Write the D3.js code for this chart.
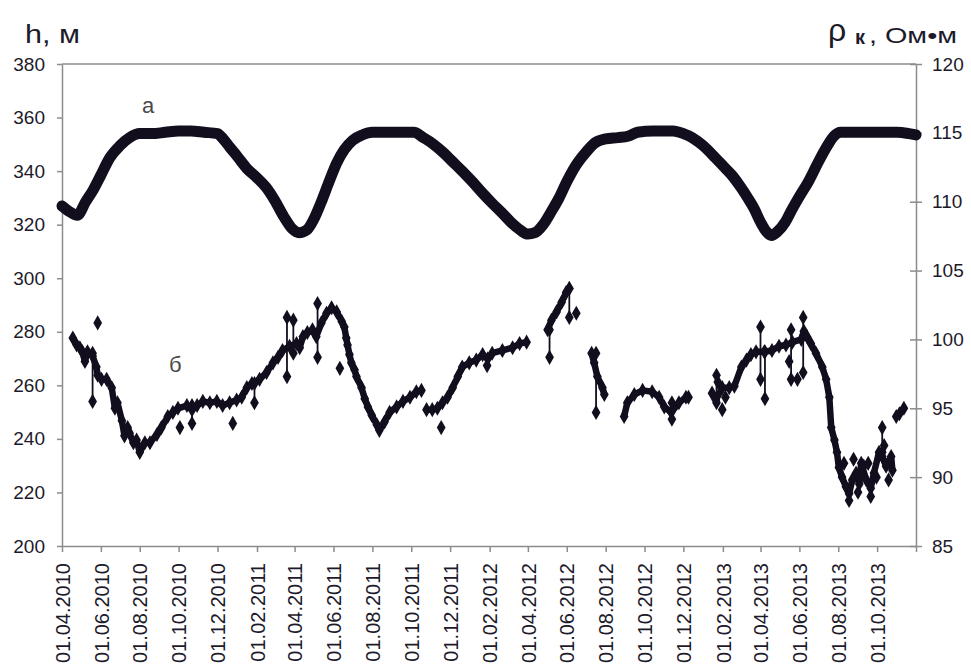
<!DOCTYPE html>
<html>
<head>
<meta charset="utf-8">
<script src="https://cdn.jsdelivr.net/npm/d3@7"></script>
<style>
  body { margin: 0; background: #fff; }
  svg { font-family: Arial, "Liberation Sans", sans-serif; }
</style>
</head>
<body>
<svg width="971" height="669"></svg>
<script>
//********************* DATA *********************//

// x axis tick labels (every 2 months), axis ends at 01.12.2013
var xTickLabels = ["01.04.2010","01.06.2010","01.08.2010","01.10.2010","01.12.2010",
  "01.02.2011","01.04.2011","01.06.2011","01.08.2011","01.10.2011","01.12.2011",
  "01.02.2012","01.04.2012","01.06.2012","01.08.2012","01.10.2012","01.12.2012",
  "01.02.2013","01.04.2013","01.06.2013","01.08.2013","01.10.2013"];
var xEnd = "01.12.2013";
var hTicks = [200, 220, 240, 260, 280, 300, 320, 340, 360, 380];
var rhoTicks = [85, 90, 95, 100, 105, 110, 115, 120];

// curve "а": h, m (left axis)
var aDates = [
  "01.04.2010","12.04.2010","25.04.2010","08.05.2010","20.05.2010","01.06.2010","15.06.2010","01.07.2010","16.07.2010","01.08.2010","20.08.2010","10.09.2010","01.10.2010","20.10.2010","10.11.2010","01.12.2010","10.12.2010","20.12.2010",
  "01.01.2011","16.01.2011","01.02.2011","15.02.2011","01.03.2011","15.03.2011","28.03.2011","08.04.2011","20.04.2011","01.05.2011","12.05.2011","25.05.2011","06.06.2011","18.06.2011","01.07.2011","16.07.2011","01.08.2011","01.09.2011","05.10.2011","20.10.2011","05.11.2011","20.11.2011","05.12.2011","20.12.2011",
  "05.01.2012","20.01.2012","05.02.2012","20.02.2012","05.03.2012","20.03.2012","01.04.2012","12.04.2012","25.04.2012","08.05.2012","20.05.2012","01.06.2012","15.06.2012","01.07.2012","15.07.2012","01.08.2012","20.08.2012","05.09.2012","20.09.2012","15.10.2012","15.11.2012","01.12.2012","15.12.2012",
  "01.01.2013","20.01.2013","01.02.2013","15.02.2013","01.03.2013","12.03.2013","22.03.2013","01.04.2013","10.04.2013","18.04.2013","28.04.2013","10.05.2013","20.05.2013","01.06.2013","15.06.2013","01.07.2013","15.07.2013","25.07.2013","05.08.2013","01.09.2013","01.10.2013","01.11.2013","20.11.2013","01.12.2013"];
var aValues = [
  327, 325, 323.5, 328.5, 333, 338.5, 345, 349.5, 352.5, 354, 354, 354.5, 355, 355, 354.5, 354, 352, 349,
  345.5, 341, 337.5, 334, 329, 323, 318.5, 317, 318, 322, 328, 336, 343, 348, 351.5, 353.5, 354.5, 354.5, 354.5, 352.5, 350, 347, 343.5, 340,
  336, 332, 328, 324.5, 321, 318, 316.5, 317, 320, 325, 330, 336, 342, 347, 350.5, 352, 352.5, 353, 354.5, 355, 355, 354, 352.5,
  349.5, 345, 342, 338.5, 334, 330, 326, 321, 317.5, 316, 317.5, 321, 325.5, 330.5, 336, 343.5, 349.5, 353, 354.5, 354.5, 354.5, 354.5, 354, 353.5];

// curve "б": rho_k, Ohm*m (right axis); null = break in the record
var bDates = [
  "18.04.2010","24.04.2010","29.04.2010","03.05.2010","07.05.2010","11.05.2010","19.05.2010","25.05.2010","27.05.2010","02.06.2010",
  "10.06.2010","18.06.2010","23.06.2010","27.06.2010","04.07.2010","08.07.2010","13.07.2010","16.07.2010","22.07.2010","27.07.2010",
  "01.08.2010","09.08.2010","17.08.2010","28.08.2010","04.09.2010","14.09.2010","22.09.2010","30.09.2010","14.10.2010","22.10.2010",
  "30.10.2010","08.11.2010","19.11.2010","30.11.2010","09.12.2010","20.12.2010","31.12.2010","08.01.2011","16.01.2011","24.01.2011",
  "05.02.2011","16.02.2011","26.02.2011","06.03.2011","13.03.2011","24.03.2011","04.04.2011","09.04.2011","14.04.2011","21.04.2011",
  "29.04.2011","05.05.2011","13.05.2011","21.05.2011","29.05.2011","06.06.2011","14.06.2011","18.06.2011","21.06.2011","23.06.2011",
  "26.06.2011","29.06.2011","04.07.2011","07.07.2011","15.07.2011","20.07.2011","25.07.2011","31.07.2011","08.08.2011","12.08.2011",
  "20.08.2011","28.08.2011","08.09.2011","18.09.2011","29.09.2011","09.10.2011","17.10.2011",null,
  "25.10.2011","03.11.2011","11.11.2011","19.11.2011","27.11.2011","05.12.2011","13.12.2011","20.12.2011","31.12.2011","11.01.2012",
  "21.01.2012","29.01.2012","05.02.2012","21.02.2012","08.03.2012","19.03.2012","30.03.2012",null,
  "02.05.2012","08.05.2012","16.05.2012","24.05.2012","31.05.2012","05.06.2012",null,
  "10.07.2012","14.07.2012","19.07.2012","27.07.2012","30.07.2012",null,
  "30.08.2012","04.09.2012","15.09.2012","28.09.2012","13.10.2012","24.10.2012","01.11.2012","12.11.2012","24.11.2012","05.12.2012","09.12.2012",null,
  "15.01.2013","21.01.2013","31.01.2013","11.02.2013","19.02.2013","02.03.2013","10.03.2013","17.03.2013","25.03.2013","07.04.2013",
  "19.04.2013","30.04.2013","11.05.2013","21.05.2013","04.06.2013","08.06.2013","13.06.2013","19.06.2013","27.06.2013","07.07.2013",
  "13.07.2013","18.07.2013","21.07.2013","26.07.2013","30.07.2013","02.08.2013","07.08.2013","13.08.2013","18.08.2013","23.08.2013",
  "29.08.2013","03.09.2013","06.09.2013","14.09.2013","21.09.2013","26.09.2013","04.10.2013","09.10.2013","15.10.2013","23.10.2013","25.10.2013",null,
  "31.10.2013","05.11.2013","12.11.2013"];
var bValues = [
  100.1, 99.6, 99.4, 99.1, 98.4, 99.1, 98.8, 98.0, 97.4, 97.1,
  97.1, 96.5, 95.0, 95.4, 94.1, 93.0, 93.6, 93.2, 92.5, 92.7,
  91.8, 92.5, 92.5, 93.1, 93.6, 94.4, 94.7, 95.0, 95.2, 94.9,
  95.2, 95.5, 95.4, 95.5, 95.2, 95.4, 95.6, 95.8, 96.5, 96.8,
  97.1, 97.6, 98.3, 98.7, 99.2, 99.5, 99.7, 99.4, 100.2, 100.5,
  100.7, 100.2, 101.2, 101.9, 102.3, 102.0, 101.3, 100.9, 100.1, 99.6,
  98.9, 98.3, 97.8, 97.3, 96.5, 95.7, 95.1, 94.5, 93.8, 93.4,
  94.0, 94.7, 95.1, 95.5, 95.8, 96.2, 96.3, null,
  94.9, 94.9, 95.0, 95.4, 95.8, 96.5, 97.3, 98.0, 98.3, 98.5,
  98.9, 98.6, 99.0, 99.2, 99.4, 99.7, 99.8, null,
  100.7, 101.4, 102.0, 102.7, 103.4, 103.7, null,
  99.0, 98.3, 97.3, 96.5, 96.0, null,
  94.4, 95.4, 96.0, 96.3, 96.2, 95.8, 95.1, 94.7, 95.4, 95.8, 95.8, null,
  96.1, 95.6, 96.5, 96.5, 96.6, 98.0, 98.5, 98.9, 99.1, 99.1,
  99.2, 99.5, 99.6, 99.8, 100.0, 100.6, 100.2, 99.7, 99.0, 98.0,
  97.1, 95.8, 93.6, 92.7, 91.8, 90.7, 90.0, 89.3, 88.8, 89.8,
  90.3, 89.5, 91.0, 89.8, 89.2, 90.3, 91.8, 91.5, 90.8, 91.5, 90.5, null,
  94.4, 94.6, 95.0];

// single scattered measurements of "б"
var bOutDates = ["27.05.2010","03.10.2010","25.12.2010","11.06.2011","17.11.2011","31.01.2013","16.05.2013","29.05.2013",
  "10.08.2013","18.08.2013","25.08.2013","01.09.2013","10.09.2013","17.09.2013","21.09.2013","30.09.2013","12.10.2013","19.10.2013",
  "05.02.2013","24.01.2013","16.06.2012","28.01.2012"];
var bOutValues = [101.2, 93.6, 93.9, 97.9, 93.6, 94.9, 98.4, 97.1,
  91.0, 88.3, 91.3, 88.9, 90.8, 91.0, 88.6, 90.0, 92.3, 89.8,
  95.8, 96.9, 101.9, 98.1];

// vertical spread bars of "б"
var wDates = ["19.05.2010","22.10.2010","28.01.2011","20.03.2011","30.03.2011","07.05.2011","05.05.2012","05.06.2012",
  "17.07.2012","13.11.2012","22.01.2013","01.04.2013","08.04.2013","19.05.2013","07.06.2013","09.10.2013"];
var wLow  = [95.5, 93.9, 95.4, 97.3, 99.0, 98.7, 98.7, 101.6, 94.7, 94.2, 95.4, 97.1, 95.7, 97.1, 97.6, 91.8];
var wHigh = [99.0, 95.2, 96.8, 101.6, 101.4, 102.6, 100.7, 103.7, 99.0, 95.4, 97.4, 100.9, 99.1, 100.7, 101.6, 93.6];

//********************* CHART *********************//

var svg = d3.select("svg"),
    width = +svg.attr("width"),
    height = +svg.attr("height");
var margin = {top: 64, right: 55, bottom: 123, left: 62};
var plotL = margin.left, plotR = width - margin.right,
    plotT = margin.top, plotB = height - margin.bottom;

var ink = "#120e1e", axisCol = "#8c8c8c", textCol = "#1d1a2b";
var parse = d3.timeParse("%d.%m.%Y");

var x = d3.scaleTime()
    .domain([parse(xTickLabels[0]), parse(xEnd)])
    .range([plotL, plotR]);
var yH = d3.scaleLinear().domain([200, 380]).range([plotB, plotT]);
var yR = d3.scaleLinear().domain([85, 120]).range([plotB, plotT]);

svg.append("rect").attr("width", width).attr("height", height).attr("fill", "#fff");

// frame top line
svg.append("line")
    .attr("x1", plotL).attr("x2", plotR).attr("y1", plotT).attr("y2", plotT)
    .attr("stroke", axisCol).attr("stroke-width", 1.5);

// left axis
var gL = svg.append("g")
    .attr("transform", "translate(" + plotL + ",0)")
    .call(d3.axisLeft(yH).tickValues(hTicks).tickSize(5).tickSizeOuter(0).tickPadding(12));

// right axis (ticks cross the line)
var gR = svg.append("g")
    .attr("transform", "translate(" + plotR + ",0)")
    .call(d3.axisRight(yR).tickValues(rhoTicks).tickSize(6).tickSizeOuter(0).tickPadding(10));
gR.selectAll(".tick line").attr("x1", -6);

// bottom axis
var tickDates = xTickLabels.map(parse).concat([parse(xEnd)]);
var fmt = d3.timeFormat("%d.%m.%Y");
var gB = svg.append("g")
    .attr("transform", "translate(0," + plotB + ")")
    .call(d3.axisBottom(x).tickValues(tickDates).tickSize(6).tickSizeOuter(0)
        .tickFormat(function(d) { return xTickLabels.indexOf(fmt(d)) >= 0 ? fmt(d) : ""; }));
gB.selectAll(".tick text")
    .attr("transform", "rotate(-90)")
    .attr("text-anchor", "end")
    .attr("x", -17).attr("y", 0).attr("dy", "0.36em")
    .style("font-size", "20px");

[gL, gR, gB].forEach(function(g) {
    g.select(".domain").attr("stroke", axisCol).attr("stroke-width", 1.5);
    g.selectAll(".tick line").attr("stroke", axisCol).attr("stroke-width", 1.5);
    g.selectAll(".tick text").attr("fill", textCol);
});
gL.selectAll(".tick text").style("font-size", "19px");
gR.selectAll(".tick text").style("font-size", "19px");

// curve "а"
var aData = aDates.map(function(d, i) { return {d: parse(d), v: aValues[i]}; });
svg.append("path")
    .datum(aData)
    .attr("fill", "none")
    .attr("stroke", ink)
    .attr("stroke-width", 11)
    .attr("stroke-linecap", "round")
    .attr("stroke-linejoin", "round")
    .attr("d", d3.line()
        .x(function(d) { return x(d.d); })
        .y(function(d) { return yH(d.v); })
        .curve(d3.curveMonotoneX));

// curve "б"
var bData = bDates.map(function(d, i) { return {d: d ? parse(d) : null, v: bValues[i]}; });
var diamond = d3.symbol(d3.symbolDiamond, 66);

// spread bars
var wData = wDates.map(function(d, i) { return {d: parse(d), lo: wLow[i], hi: wHigh[i]}; });
svg.append("g").selectAll("line")
    .data(wData)
    .enter().append("line")
        .attr("x1", function(d) { return x(d.d); })
        .attr("x2", function(d) { return x(d.d); })
        .attr("y1", function(d) { return yR(d.lo); })
        .attr("y2", function(d) { return yR(d.hi); })
        .attr("stroke", ink).attr("stroke-width", 1.8);

svg.append("path")
    .datum(bData)
    .attr("fill", "none")
    .attr("stroke", ink)
    .attr("stroke-width", 6.5)
    .attr("stroke-linejoin", "round")
    .attr("stroke-linecap", "round")
    .attr("d", d3.line()
        .defined(function(d) { return d.v != null; })
        .x(function(d) { return x(d.d); })
        .y(function(d) { return yR(d.v); }));

var marks = bData.filter(function(d) { return d.v != null; })
    .concat(bOutDates.map(function(d, i) { return {d: parse(d), v: bOutValues[i]}; }))
    .concat(wData.map(function(d) { return {d: d.d, v: d.lo}; }))
    .concat(wData.map(function(d) { return {d: d.d, v: d.hi}; }));
svg.append("g").selectAll("path")
    .data(marks)
    .enter().append("path")
        .attr("d", diamond)
        .attr("fill", ink)
        .attr("transform", function(d) { return "translate(" + x(d.d) + "," + yR(d.v) + ")"; });

// curve labels
svg.append("text").attr("x", 142).attr("y", 113)
    .attr("fill", "#4a4a4a").style("font-size", "22px").text("а");
svg.append("text").attr("x", 169).attr("y", 372)
    .attr("fill", "#4a4a4a").style("font-size", "22px").text("б");

// axis titles
svg.append("text").attr("x", 25).attr("y", 43)
    .attr("fill", textCol).style("font-size", "26px")
    .attr("textLength", 55).attr("lengthAdjust", "spacingAndGlyphs")
    .text("h, м");
svg.append("text").attr("x", 828).attr("y", 41)
    .attr("fill", textCol).style("font-size", "32px").text("ρ");
svg.append("text").attr("x", 855).attr("y", 44)
    .attr("fill", textCol).style("font-size", "20px").style("font-weight", "bold").text("к");
svg.append("text").attr("x", 869).attr("y", 43)
    .attr("fill", textCol).style("font-size", "22px")
    .attr("textLength", 88).attr("lengthAdjust", "spacingAndGlyphs")
    .text(", Ом•м");
</script>
</body>
</html>
